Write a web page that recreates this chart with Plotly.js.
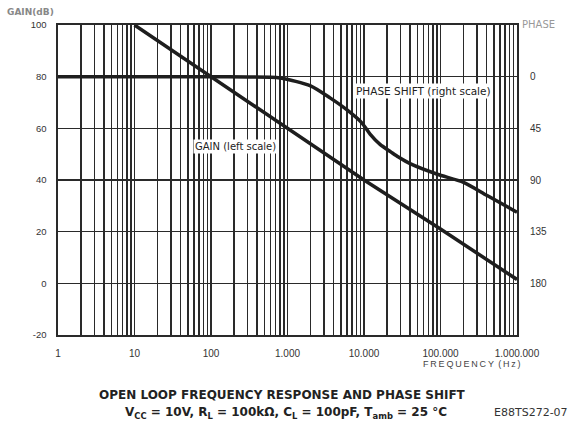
<!DOCTYPE html>
<html>
<head>
<meta charset="utf-8">
<script src="https://cdn.plot.ly/plotly-3.0.1.min.js"></script>
<style>html,body{margin:0;padding:0;background:#fff;}#chart{width:574px;height:423px;}</style>
</head>
<body>
<div id="chart"></div>
<script>
// Gain (left scale, dB)
var gainFreq = [10, 100, 1000, 10000, 100000, 1000000];
var gainDb   = [100, 80, 60, 40, 21, 1.5];

// Phase shift (right scale, degrees)
var phaseFreq = [1, 10, 100, 300, 800, 2000, 3600, 6000, 9300, 12000, 16200, 22400, 28200, 40700, 91000, 200000, 407000, 1000000];
var phaseDeg  = [0, 0, 0, 0.3, 1.2, 8, 18.5, 29, 40, 50, 59, 65.5, 70, 76, 85, 92, 103.5, 118];

// Axis ticks
var decades = [1, 10, 100, 1000, 10000, 100000, 1000000];
var decadeLabels = ["1", "10", "100", "1.000", "10.000", "100.000", "1.000.000"];
var gainTicks = [-20, 0, 20, 40, 60, 80, 100];
var gainTickLabels = ["-20", "0", "20", "40", "60", "80", "100"];
var phaseTicks = [0, 45, 90, 135, 180];

// grid at every 1..9 multiple in each decade
var gridVals = [], gridText = [];
for (var d = 0; d < decades.length; d++) {
  for (var m = 1; m <= 9; m++) {
    var v = decades[d] * m;
    if (v > 1000000) break;
    gridVals.push(v);
    gridText.push(m === 1 ? decadeLabels[d] : "");
  }
}

var lineCol = "#2a2a2a";
var traces = [
  {x: gainFreq, y: gainDb, type: "scatter", mode: "lines", yaxis: "y",
   line: {color: "#1e1e1e", width: 3.5}, hoverinfo: "skip"},
  {x: phaseFreq, y: phaseDeg, type: "scatter", mode: "lines", yaxis: "y2",
   line: {color: "#1e1e1e", width: 3.5, shape: "spline", smoothing: 0.7}, hoverinfo: "skip"}
];

var W = 459, H = 310, L = 58, T = 25;
function px(X) { return (X - L) / W; }
function py(Y) { return (T + H - Y) / H; }

var baseFont = "Liberation Sans, Arial, sans-serif";
var wideFont = "DejaVu Sans, Verdana, sans-serif";
var ts = "\u2009";
var freqTitle = "FREQUENCY".split("").join(ts) + ts + " (" + ts + "H" + ts + "z" + ts + ")";

var layout = {
  width: 574, height: 423,
  margin: {l: 58, r: 57, t: 25, b: 88},
  paper_bgcolor: "#ffffff", plot_bgcolor: "#ffffff",
  showlegend: false,
  font: {family: baseFont, size: 9, color: "#333"},
  xaxis: {
    type: "log", range: [0, 6],
    tickvals: gridVals, ticktext: gridText,
    showgrid: true, gridcolor: lineCol, gridwidth: 1.6,
    ticks: "", ticklabelstandoff: 8,
    tickfont: {size: 10, color: "#333"},
    showline: true, linecolor: lineCol, linewidth: 1.6, mirror: true,
    zeroline: false
  },
  yaxis: {
    range: [-20, 100],
    tickvals: gainTicks, ticktext: gainTickLabels,
    showgrid: true, gridcolor: lineCol, gridwidth: 1.6,
    ticks: "", ticklabelstandoff: 8,
    tickfont: {size: 9.5, color: "#333"},
    showline: true, linecolor: lineCol, linewidth: 1.6, mirror: true,
    zeroline: false
  },
  yaxis2: {
    overlaying: "y", side: "right",
    range: [225, -45],
    tickvals: phaseTicks,
    showgrid: false, zeroline: false, showline: false,
    ticks: "", ticklabelstandoff: 12,
    tickfont: {size: 10, color: "#333"}
  },
  annotations: [
    {text: "GAIN(dB)", xref: "paper", yref: "paper", x: px(5), y: py(12),
     xanchor: "left", yanchor: "middle", showarrow: false,
     font: {size: 9, color: "#888", family: wideFont, weight: "bold"}},
    {text: "PHASE", xref: "paper", yref: "paper", x: px(520), y: py(24),
     xanchor: "left", yanchor: "middle", showarrow: false,
     font: {size: 10, color: "#999", family: wideFont}},
    {text: "GAIN (left scale)", xref: "paper", yref: "paper", x: px(235), y: py(146),
     xanchor: "center", yanchor: "middle", showarrow: false, bgcolor: "#ffffff",
     font: {size: 10, color: "#222", family: wideFont}},
    {text: "PHASE SHIFT (right scale)", xref: "paper", yref: "paper", x: px(423.5), y: py(91),
     xanchor: "center", yanchor: "middle", showarrow: false, bgcolor: "#ffffff",
     font: {size: 10.5, color: "#222", family: wideFont}},
    {text: freqTitle, xref: "paper", yref: "paper", x: px(472), y: py(364),
     xanchor: "center", yanchor: "middle", showarrow: false,
     font: {size: 9, color: "#444", family: baseFont}},
    {text: "<b>OPEN LOOP FREQUENCY RESPONSE AND PHASE SHIFT</b>", xref: "paper", yref: "paper",
     x: px(282), y: py(395), xanchor: "center", yanchor: "middle", showarrow: false,
     font: {size: 12, color: "#222", family: wideFont}},
    {text: "<b>V<sub>CC</sub> = 10V, R<sub>L</sub> = 100kΩ, C<sub>L</sub> = 100pF, T<sub>amb</sub> = 25 °C</b>",
     xref: "paper", yref: "paper", x: px(286), y: py(413), xanchor: "center", yanchor: "middle",
     showarrow: false, font: {size: 12, color: "#222", family: wideFont}},
    {text: "E88TS272-07", xref: "paper", yref: "paper", x: px(531), y: py(412),
     xanchor: "center", yanchor: "middle", showarrow: false,
     font: {size: 11, color: "#333", family: wideFont}}
  ]
};

Plotly.newPlot("chart", traces, layout, {staticPlot: true, displayModeBar: false});
</script>
</body>
</html>
